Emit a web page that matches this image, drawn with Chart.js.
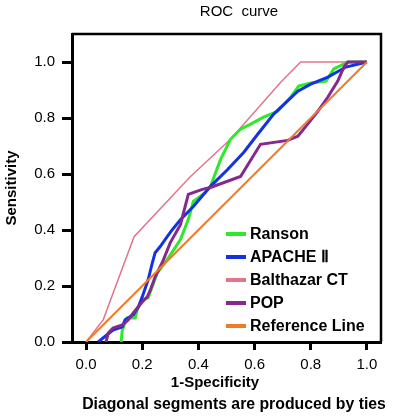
<!DOCTYPE html>
<html>
<head>
<meta charset="utf-8">
<script src="https://cdn.jsdelivr.net/npm/chart.js@4.4.0/dist/chart.umd.min.js"></script>
<style>
  html, body { margin: 0; padding: 0; background: #fff; }
  canvas { display: block; }
</style>
</head>
<body>
<canvas id="roc" width="394" height="419"></canvas>
<script>
// tick labels
var xTicks = [0, 0.2, 0.4, 0.6, 0.8, 1.0];
var yTicks = [0, 0.2, 0.4, 0.6, 0.8, 1.0];

// series names
var seriesNames = ['Ranson', 'APACHE \u2161', 'Balthazar CT', 'POP', 'Reference Line'];

// Ranson (1-specificity, sensitivity)
var ransonX = [0.125, 0.129, 0.146, 0.175, 0.182, 0.2, 0.221, 0.254, 0.289, 0.336, 0.364, 0.382, 0.425, 0.443, 0.479, 0.514, 0.55, 0.586, 0.632, 0.682, 0.729, 0.757, 0.8, 0.854, 0.882, 0.932, 1];
var ransonY = [0, 0.043, 0.086, 0.086, 0.115, 0.151, 0.158, 0.247, 0.294, 0.366, 0.437, 0.502, 0.534, 0.556, 0.652, 0.724, 0.76, 0.778, 0.803, 0.824, 0.875, 0.914, 0.925, 0.932, 0.975, 1, 1];

// APACHE II
var apacheX = [0.043, 0.096, 0.129, 0.139, 0.168, 0.186, 0.2, 0.221, 0.236, 0.246, 0.264, 0.289, 0.307, 0.336, 0.382, 0.443, 0.504, 0.561, 0.611, 0.668, 0.754, 0.8, 0.861, 0.925, 1];
var apacheY = [0, 0.043, 0.054, 0.079, 0.097, 0.125, 0.161, 0.222, 0.283, 0.319, 0.341, 0.376, 0.401, 0.437, 0.484, 0.556, 0.616, 0.677, 0.742, 0.814, 0.896, 0.921, 0.946, 0.982, 1];

// Balthazar CT
var balthX = [0, 0.061, 0.171, 0.371, 0.514, 0.693, 0.764, 1];
var balthY = [0, 0.079, 0.376, 0.59, 0.724, 0.928, 1, 1];

// POP
var popX = [0.071, 0.079, 0.096, 0.129, 0.15, 0.168, 0.2, 0.218, 0.229, 0.246, 0.271, 0.3, 0.336, 0.364, 0.414, 0.443, 0.55, 0.621, 0.718, 0.754, 0.789, 0.825, 0.861, 0.896, 0.918, 0.932, 1];
var popY = [0, 0.032, 0.05, 0.061, 0.079, 0.104, 0.143, 0.161, 0.186, 0.233, 0.283, 0.355, 0.419, 0.527, 0.545, 0.552, 0.591, 0.706, 0.72, 0.735, 0.778, 0.824, 0.875, 0.932, 0.982, 1, 1];

// reference diagonal
var refX = [0, 1];
var refY = [0, 1];

var FONT = '"Liberation Sans", Arial, sans-serif';

function pts(xs, ys){
  return xs.map(function(x, i){ return {x: x, y: ys[i]}; });
}

function makeSet(label, xs, ys, color, width, order){
  return {
    label: label,
    data: pts(xs, ys),
    borderColor: color,
    backgroundColor: color,
    borderWidth: width,
    pointRadius: 0,
    tension: 0,
    showLine: true,
    fill: false,
    order: order
  };
}

// frame, titles, footnote and the legend inside the plot
var extras = {
  id: 'extras',
  afterDraw: function(chart){
    var ctx = chart.ctx, a = chart.chartArea;
    ctx.save();

    // top and right border
    ctx.strokeStyle = '#000';
    ctx.lineWidth = 2.5;
    ctx.beginPath();
    ctx.moveTo(a.left, a.top);
    ctx.lineTo(a.right, a.top);
    ctx.lineTo(a.right, a.bottom);
    ctx.stroke();

    ctx.fillStyle = '#000';
    ctx.textAlign = 'center';
    ctx.textBaseline = 'middle';

    ctx.font = '15px ' + FONT;
    ctx.fillText('ROC  curve', 239, 12);

    ctx.font = 'bold 15px ' + FONT;
    ctx.fillText('1-Specificity', 215, 383);
    ctx.font = 'bold 15.8px ' + FONT;
    ctx.fillText('Diagonal segments are produced by ties', 234, 405);

    ctx.font = 'bold 15px ' + FONT;
    ctx.save();
    ctx.translate(12, 188);
    ctx.rotate(-Math.PI / 2);
    ctx.fillText('Sensitivity', 0, 0);
    ctx.restore();

    // legend
    ctx.textAlign = 'left';
    ctx.font = 'bold 16px ' + FONT;
    chart.data.datasets.forEach(function(ds, i){
      var y = 234 + i * 23;
      ctx.strokeStyle = ds.borderColor;
      ctx.lineWidth = 4;
      ctx.beginPath();
      ctx.moveTo(226, y);
      ctx.lineTo(246, y);
      ctx.stroke();
      ctx.fillStyle = '#000';
      ctx.fillText(ds.label, 250, y + 1);
    });

    ctx.restore();
  }
};

function axis(min, max, ticks, fitProp, fitVal, tickLen, pad){
  return {
    type: 'linear',
    min: min,
    max: max,
    afterBuildTicks: function(s){
      s.ticks = ticks.map(function(v){ return {value: v}; });
    },
    afterFit: function(s){ s[fitProp] = fitVal; },
    ticks: {
      color: '#000',
      font: {family: FONT, size: 15},
      padding: pad,
      maxRotation: 0,
      callback: function(v){ return Number(v).toFixed(1); }
    },
    grid: {
      drawOnChartArea: false,
      drawTicks: true,
      tickLength: tickLen,
      tickWidth: 3,
      tickColor: '#000'
    },
    border: {display: true, color: '#000', width: 3}
  };
}

new Chart(document.getElementById('roc'), {
  type: 'scatter',
  data: {
    datasets: [
      makeSet(seriesNames[0], ransonX, ransonY, '#2ee82a', 3, 3),
      makeSet(seriesNames[1], apacheX, apacheY, '#1432e0', 3, 2),
      makeSet(seriesNames[2], balthX, balthY, '#e2758c', 1.5, 4),
      makeSet(seriesNames[3], popX, popY, '#84298e', 3, 1),
      makeSet(seriesNames[4], refX, refY, '#f07a28', 2, 0)
    ]
  },
  options: {
    responsive: false,
    devicePixelRatio: 1,
    animation: false,
    layout: {padding: {left: 0, top: 34, right: 13, bottom: 0}},
    plugins: {
      legend: {display: false},
      tooltip: {enabled: false}
    },
    scales: {
      x: axis(-0.05, 1.05, xTicks, 'height', 77, 8, 6),
      y: axis(0, 1.1, yTicks, 'width', 72, 10, 7)
    }
  },
  plugins: [extras]
});
</script>
</body>
</html>
